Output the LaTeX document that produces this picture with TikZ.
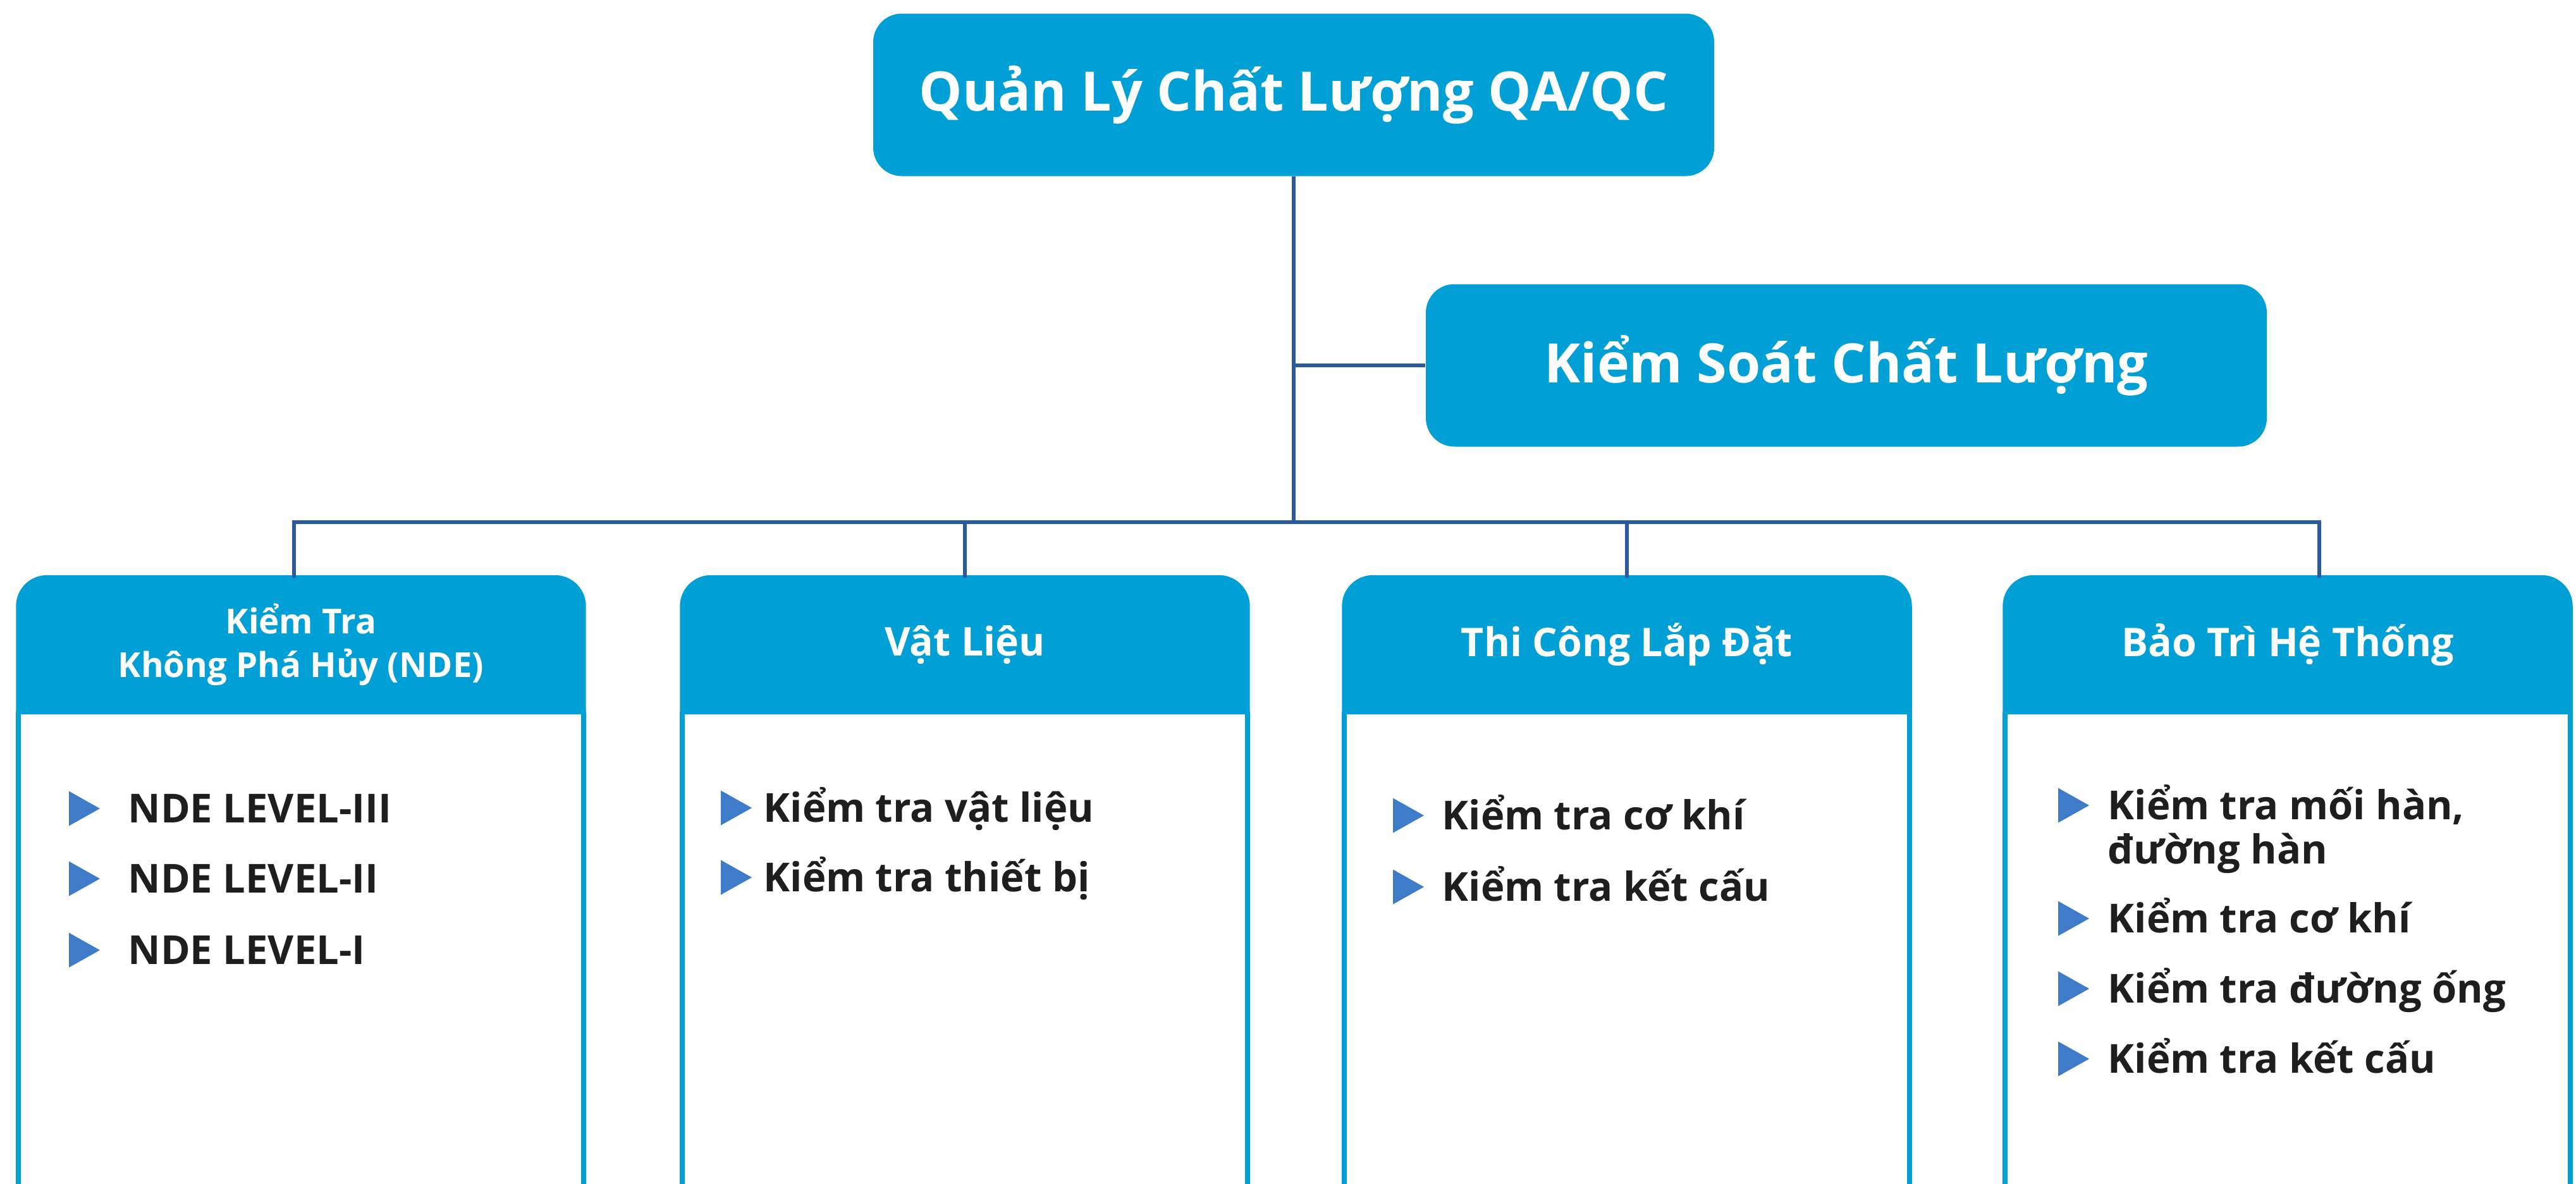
\documentclass[tikz,border=0pt]{standalone}
\usepackage{fontspec}
\setmainfont{Open Sans}
\usetikzlibrary{backgrounds}
\definecolor{boxblue}{HTML}{00A0D6}
\definecolor{linkblue}{HTML}{2B5A9E}
\definecolor{bulletblue}{HTML}{3E7CC9}
\definecolor{textdark}{HTML}{1E1E1E}
% blue triangle in front of a list item: #1 item node, #2 shift to the left
\newcommand{\bul}[2]{\fill[bulletblue] ([shift={(#2,0.495)}]#1.base west) -- ++(0.49,-0.275) -- ++(-0.49,-0.275) -- cycle;}
\begin{document}
\begin{tikzpicture}[
    head/.style={fill=boxblue, text=white, rounded corners=0.45cm, minimum width=13.3cm, minimum height=2.57cm},
    colhead/.style={text=white, minimum width=8.92cm, minimum height=2.11cm, align=center, font=\fontsize{17.8}{20.5}\selectfont\bfseries},
    item/.style={anchor=base west, inner sep=0pt, text=textdark, font=\fontsize{18}{20}\selectfont\bfseries},
    link/.style={draw=linkblue, line width=0.06cm},
    frame/.style={draw=boxblue, line width=0.08cm}]
    \path[use as bounding box, clip] (0,0) rectangle (40.74,-18.72);

    % top boxes
    \node[head, font=\fontsize{24.5}{30}\selectfont\bfseries] (qa) at (20.46,-1.50) {Quản Lý Chất Lượng QA/QC};
    \node[head, font=\fontsize{24.5}{30}\selectfont\bfseries] (qc) at (29.20,-5.78) {Kiểm Soát Chất Lượng};

    % column headers
    \node[colhead, font=\fontsize{15.5}{19.5}\selectfont\bfseries] (nde) at (4.76,-10.20) {Kiểm Tra\\Không Phá Hủy (NDE)};
    \node[colhead] (vl) at (15.26,-10.20) {Vật Liệu};
    \node[colhead] (tc) at (25.73,-10.20) {Thi Công Lắp Đặt};
    \node[colhead] (bt) at (36.18,-10.20) {Bảo Trì Hệ Thống};

    \begin{scope}[on background layer]
    \fill[white] (0,0) rectangle (40.74,-18.72);
    \foreach \c in {nde,vl,tc,bt}{
        \draw[frame, fill=white] (\c.south west) -- (\c.south west |- 0,-19.5) -- (\c.south east |- 0,-19.5) -- (\c.south east);
        \filldraw[frame, fill=boxblue] (\c.south west) [rounded corners=0.45cm]-- (\c.north west) -- (\c.north east) [sharp corners]-- (\c.south east) -- cycle;
    }
    \end{scope}

    % connectors
    \coordinate (bus) at (qa.south |- 0,-8.26);
    \draw[link] (qa.south) -- (bus);
    \draw[link] (qa.south |- qc.west) -- (qc.west);
    \draw[link] ([xshift=-0.11cm]nde.north) |- (bus);
    \draw[link] (vl.north) |- (bus);
    \draw[link] (tc.north) |- (bus);
    \draw[link] ([xshift=0.5cm]bt.north) |- (bus);

    % lists
    \node[item] (n3) at (2.02,-13.01) {NDE LEVEL-III};
    \node[item] (n2) at (2.02,-14.12) {NDE LEVEL-II};
    \node[item] (n1) at (2.02,-15.25) {NDE LEVEL-I};
    \foreach \i in {n3,n2,n1} {\bul{\i}{-0.93}}

    \node[item] (vl1) at (12.07,-13.00) {Kiểm tra vật liệu};
    \node[item] (vl2) at (12.07,-14.10) {Kiểm tra thiết bị};
    \foreach \i in {vl1,vl2} {\bul{\i}{-0.67}}

    \node[item] (tc1) at (22.80,-13.12) {Kiểm tra cơ khí};
    \node[item] (tc2) at (22.80,-14.25) {Kiểm tra kết cấu};
    \foreach \i in {tc1,tc2} {\bul{\i}{-0.77}}

    \node[item] (bt1) at (33.33,-12.96) {\begin{tabular}[t]{@{}l@{}}Kiểm tra mối hàn,\\đường hàn\end{tabular}};
    \node[item] (bt2) at (33.33,-14.75) {Kiểm tra cơ khí};
    \node[item] (bt3) at (33.33,-15.86) {Kiểm tra đường ống};
    \node[item] (bt4) at (33.33,-16.97) {Kiểm tra kết cấu};
    \foreach \i in {bt1,bt2,bt3,bt4} {\bul{\i}{-0.78}}
\end{tikzpicture}
\end{document}
